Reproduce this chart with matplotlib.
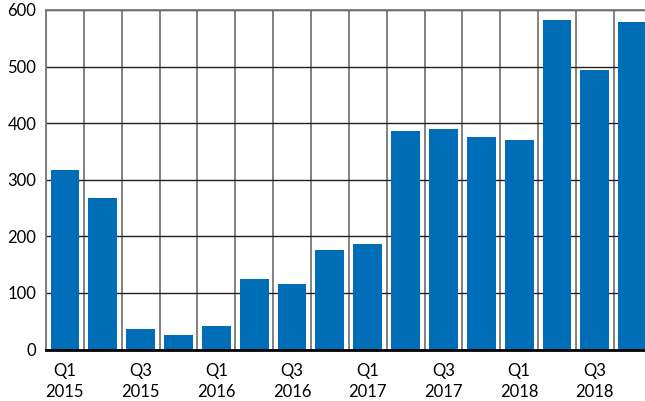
import matplotlib
matplotlib.use("Agg")
import matplotlib.pyplot as plt
import numpy as np

quarters = ["Q1 2015", "Q2 2015", "Q3 2015", "Q4 2015",
            "Q1 2016", "Q2 2016", "Q3 2016", "Q4 2016",
            "Q1 2017", "Q2 2017", "Q3 2017", "Q4 2017",
            "Q1 2018", "Q2 2018", "Q3 2018", "Q4 2018"]
values = [317, 268, 36, 26, 41, 125, 116, 176, 186, 386, 390, 375, 370, 582, 494, 579]
tick_labels = ["Q1\n2015", "Q3\n2015", "Q1\n2016", "Q3\n2016",
               "Q1\n2017", "Q3\n2017", "Q1\n2018", "Q3\n2018"]
yticks = [0, 100, 200, 300, 400, 500, 600]

plt.rcParams['font.family'] = ['Lato', 'DejaVu Sans']

fig = plt.figure(figsize=(6.45, 4.01), dpi=100)
W, H = 645, 401
left, bottom_px, top_px = 46, 349.5, 10
slot = 37.85
ax = fig.add_axes([left / W, (H - bottom_px) / H, 16 * slot / W, (bottom_px - top_px) / H])

x = np.arange(len(values))
ax.bar(x, values, width=0.76, color="#006EB6", zorder=3)

ax.set_xlim(-0.5, len(values) - 0.5)
ax.set_ylim(0, 600)
ax.set_yticks(yticks)
ax.set_yticklabels([str(v) for v in yticks])
ax.set_xticks(x[::2])
ax.set_xticklabels(tick_labels, linespacing=1.35)
ax.set_xticks(np.arange(-0.5, len(values), 1), minor=True)

ax.grid(axis='x', which='minor', color='#777777', linewidth=1.3, zorder=1)
ax.grid(axis='y', which='major', color='#222222', linewidth=1.0, zorder=1)
ax.grid(axis='x', which='major', visible=False)

ax.tick_params(axis='both', which='both', length=0, labelsize=12, colors='#000000')
ax.tick_params(axis='y', pad=7)
ax.tick_params(axis='x', pad=10)

for s in ['right']:
    ax.spines[s].set_visible(False)
ax.spines['top'].set_color('#777777')
ax.spines['top'].set_linewidth(1.3)
ax.spines['left'].set_color('#777777')
ax.spines['left'].set_linewidth(1.3)
ax.spines['bottom'].set_color('#000000')
ax.spines['bottom'].set_linewidth(2)
ax.spines['bottom'].set_zorder(4)

fig.savefig("out.png", dpi=100)
